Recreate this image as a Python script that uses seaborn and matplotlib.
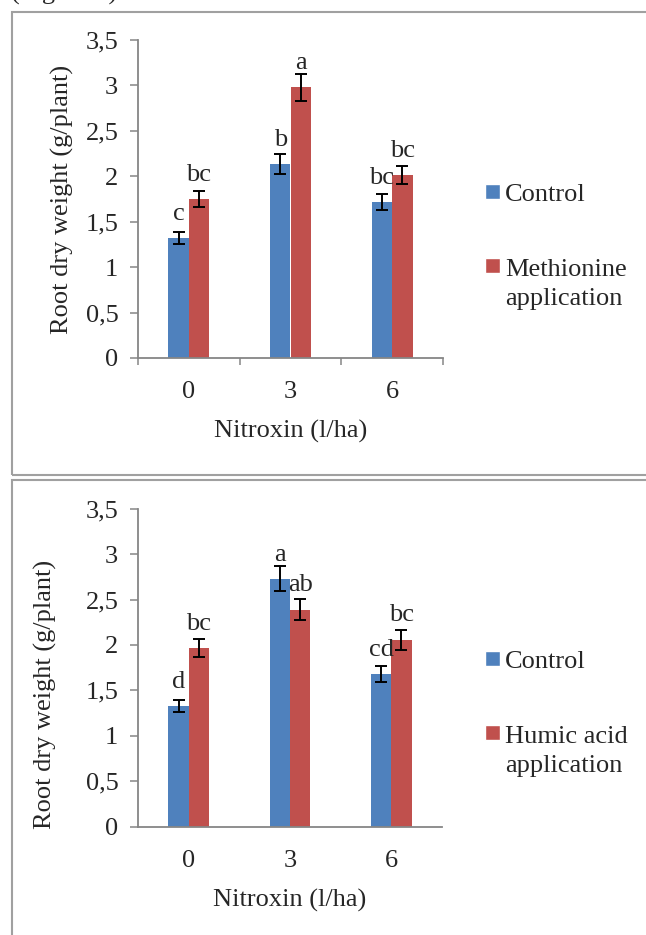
import pandas as pd
import matplotlib.pyplot as plt
import seaborn as sns
from matplotlib.patches import Rectangle, Patch
from matplotlib.legend_handler import HandlerPatch

# Data
nitroxin = ["0", "3", "6"]
yticks = [0, 0.5, 1, 1.5, 2, 2.5, 3, 3.5]
ytick_labels = ["0", "0,5", "1", "1,5", "2", "2,5", "3", "3,5"]

# top panel: methionine
control_a = [1.32, 2.14, 1.72]
control_a_err = [0.07, 0.11, 0.09]
methionine = [1.75, 2.98, 2.01]
methionine_err = [0.09, 0.15, 0.10]
letters_a = [["c", "b", "bc"], ["bc", "a", "bc"]]

# bottom panel: humic acid
control_b = [1.33, 2.73, 1.68]
control_b_err = [0.07, 0.14, 0.09]
humic = [1.97, 2.39, 2.06]
humic_err = [0.10, 0.12, 0.11]
letters_b = [["d", "a", "cd"], ["bc", "ab", "bc"]]

colors = ["#4F81BD", "#C0504D"]
grey = "#868686"
fs = 19

sns.set_style("white")
plt.rcParams["font.family"] = ["Liberation Serif", "DejaVu Serif"]

W, H = 646, 935
fig = plt.figure(figsize=(W / 100, H / 100), dpi=100)


def square(legend, orig_handle, xdescent, ydescent, width, height, fontsize):
    # put the square next to the first line of a two-line label
    lift = 0.67 * fontsize if "\n" in orig_handle.get_label() else 0
    return Rectangle((-xdescent, -ydescent + lift), width, height)


def panel(ax, ctrl, ctrl_err, trt, trt_err, trt_name, letters,
          boundary_ticks, legend_top, ylabel_xy):
    df = pd.DataFrame({
        "Nitroxin": nitroxin * 2,
        "weight": ctrl + trt,
        "group": ["Control"] * 3 + [trt_name] * 3,
    })
    sns.barplot(data=df, x="Nitroxin", y="weight", hue="group", order=nitroxin,
                palette=colors, saturation=1, width=0.4, gap=0, errorbar=None,
                linewidth=0, legend=False, ax=ax)

    for cont, errs, labs in zip(ax.containers, [ctrl_err, trt_err], letters):
        xs = [b.get_x() + b.get_width() / 2 for b in cont]
        hs = [b.get_height() for b in cont]
        ax.errorbar(xs, hs, yerr=errs, fmt="none", ecolor="black",
                    elinewidth=1.4, capsize=4, capthick=1.4)
        for x, h, lab in zip(xs, hs, labs):
            ax.annotate(lab, (x, h), xytext=(0, 13), textcoords="offset points",
                        ha="center", va="baseline", fontsize=fs)

    ax.set_xlim(-0.5, 2.5)
    ax.set_ylim(0, 3.5)
    ax.set_yticks(yticks, ytick_labels)
    sns.despine(ax=ax)
    for s in ["left", "bottom"]:
        ax.spines[s].set_color(grey)
        ax.spines[s].set_linewidth(1.3)
    ax.tick_params(axis="y", length=5.8, width=1.1, color=grey, pad=8.4,
                   labelsize=fs, left=True)
    ax.tick_params(axis="x", length=0, pad=16.5, labelsize=fs)
    if boundary_ticks:
        ax.set_xticks([-0.5, 0.5, 1.5, 2.5], minor=True)
        ax.tick_params(axis="x", which="minor", length=5, width=1.1,
                       color=grey, bottom=True)

    ax.set_ylabel("Root dry weight (g/plant)", fontsize=fs)
    ax.yaxis.set_label_coords(*ylabel_xy)
    ax.set_xlabel("Nitroxin (l/ha)", fontsize=fs)
    ax.xaxis.set_label_coords(0.5, -0.195)

    handles = [Patch(facecolor=c, label=l) for c, l in zip(colors, ["Control", trt_name])]
    leg = ax.legend(handles=handles, loc="upper left",
                    bbox_to_anchor=(485 / W, legend_top), bbox_transform=fig.transFigure,
                    frameon=False, fontsize=fs, handlelength=0.55, handleheight=0.52,
                    handletextpad=0.2, labelspacing=2.0, borderpad=0, borderaxespad=0,
                    handler_map={Patch: HandlerPatch(patch_func=square)})
    for t in leg.get_texts():
        t.set_linespacing(1.4)


ax1 = fig.add_axes([138 / W, 1 - 358 / H, 305 / W, 318 / H])
panel(ax1, control_a, control_a_err, methionine, methionine_err,
      "Methionine\napplication", letters_a, True, 1 - 184 / H, (-0.21, 0.5))

ax2 = fig.add_axes([138 / W, 1 - 826.7 / H, 304 / W, 318 / H])
panel(ax2, control_b, control_b_err, humic, humic_err,
      "Humic acid\napplication", letters_b, False, 1 - 651 / H, (-0.268, 0.417))

# frames around the two panels and the cut-off caption above
fig.add_artist(Rectangle((11.7 / W, 1 - 475 / H), 1, (475 - 12) / H,
                         transform=fig.transFigure, fill=False,
                         edgecolor="#a0a0a0", lw=1.5))
fig.add_artist(Rectangle((11.7 / W, -0.1), 1, 0.1 + 1 - 480 / H,
                         transform=fig.transFigure, fill=False,
                         edgecolor="#a0a0a0", lw=1.5))
fig.text(11 / W, 1.0, "(Figure 3)", fontsize=fs, va="baseline")

fig.savefig("out.png", dpi=100)
